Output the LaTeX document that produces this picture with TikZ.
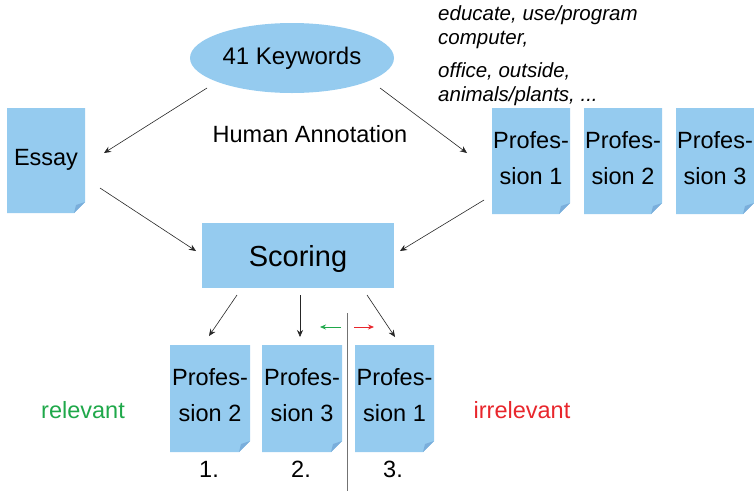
\documentclass[tikz,border=0pt]{standalone}
\usepackage{fontspec}
\setmainfont{Liberation Sans}
\usetikzlibrary{shapes.geometric,arrows.meta}
\definecolor{docblue}{HTML}{95CBEF}
\definecolor{folddark}{HTML}{7AAEDB}
\definecolor{relgreen}{HTML}{1FA84A}
\definecolor{irrred}{HTML}{E8262C}
\tikzset{
  conn/.style={-{Stealth[length=7pt,width=6pt]}, line width=0.6pt, black!85},
  doctext/.style={font=\fontsize{23.5}{36}\selectfont, align=center, inner sep=0pt},
  lbl/.style={font=\fontsize{23.5}{28}\selectfont, inner sep=0pt},
}
% document sheet with a folded bottom-right corner: #1 = left, #2 = top, #3 = right, #4 = bottom
\newcommand{\docsheet}[5]{%
  \fill[docblue] (#1,#2) -- (#3,#2) -- (#3,#4-11) -- (#3-11,#4) -- (#1,#4) -- cycle;
  \fill[folddark] (#3,#4-11) -- (#3-11,#4) -- (#3-9,#4-8) -- cycle;
  \coordinate (#5) at ({(#1+#3)/2},{(#2+#4)/2-3});
}
\begin{document}
\begin{tikzpicture}[x=1pt,y=-1pt]
\useasboundingbox (0,0) rectangle (754,491);

% keyword ellipse
\fill[docblue] (292,58) ellipse [x radius=102, y radius=35];
\node[font=\fontsize{24}{28}\selectfont, inner sep=0pt] (kw) at (292,58) {41 Keywords};

% keyword examples
\node[anchor=north west, align=left, inner sep=0pt, font=\fontsize{20.5}{24.5}\selectfont\itshape] (ex1) at (438,5)
  {educate, use/program\\computer,};
\node[anchor=north west, align=left, inner sep=0pt, font=\fontsize{20.5}{24.5}\selectfont\itshape] (ex2) at (438,62)
  {office, outside,\\animals/plants, ...};

\node[lbl] (ha) at (310,134) {Human Annotation};

% essay
\docsheet{7}{108}{85}{213}{essayc}
\node[lbl] (essay) at ([yshift=-2pt]essayc) {Essay};

% professions (input)
\docsheet{492}{108}{570}{214}{p1c}
\docsheet{584}{108}{662}{214}{p2c}
\docsheet{676}{108}{754}{214}{p3c}
\node[doctext] (p1) at (p1c) {Profes-\\sion 1};
\node[doctext] (p2) at (p2c) {Profes-\\sion 2};
\node[doctext] (p3) at (p3c) {Profes-\\sion 3};

% scoring
\node[fill=docblue, minimum width=192pt, minimum height=65pt, inner sep=0pt] (sc) at (298,255.5) {};
\node[font=\fontsize{29}{33}\selectfont, inner sep=0pt] (sct) at (298,259) {Scoring};

% ranked professions
\docsheet{170}{345}{250}{452}{r1c}
\docsheet{262}{345}{342}{452}{r2c}
\docsheet{355}{345}{434}{452}{r3c}
\node[doctext] (r1) at (r1c) {Profes-\\sion 2};
\node[doctext] (r2) at (r2c) {Profes-\\sion 3};
\node[doctext] (r3) at (r3c) {Profes-\\sion 1};

\node[lbl] (n1) at (209,469) {1.};
\node[lbl] (n2) at (301,469) {2.};
\node[lbl] (n3) at (393,469) {3.};

\node[lbl, text=relgreen] (rel) at (83,410) {relevant};
\node[lbl, text=irrred] (irr) at (522,410) {irrelevant};

% relevance cut
\coordinate (cutTop) at (347,313);
\coordinate (cutBot) at (347,491);
\draw[line width=1pt, black!55] (cutTop) -- (cutBot);
\coordinate (gA) at (341,327); \coordinate (gB) at (320,327);
\coordinate (rA) at (354,327); \coordinate (rB) at (374,327);
\draw[-{Stealth[length=6pt,width=5pt]}, relgreen, line width=0.8pt] (gA) -- (gB);
\draw[-{Stealth[length=6pt,width=5pt]}, irrred, line width=0.8pt] (rA) -- (rB);

% connector end points
\coordinate (kwL) at (207,88);  \coordinate (essayIn) at (104,153);
\coordinate (kwR) at (380,88);  \coordinate (p1In) at (467,153);
\coordinate (essayOut) at (100,188); \coordinate (scL) at (196,251);
\coordinate (p1Out) at (484,200);    \coordinate (scR) at (400,251);
\coordinate (scB1) at (237,295); \coordinate (r1In) at (209,336);
\coordinate (scB2) at (300,295); \coordinate (r2In) at (300,337);
\coordinate (scB3) at (367,295); \coordinate (r3In) at (395,337);

% connectors
\draw[conn] (kwL) -- (essayIn);
\draw[conn] (kwR) -- (p1In);
\draw[conn] (essayOut) -- (scL);
\draw[conn] (p1Out) -- (scR);
\draw[conn] (scB1) -- (r1In);
\draw[conn] (scB2) -- (r2In);
\draw[conn] (scB3) -- (r3In);
\end{tikzpicture}
\end{document}
